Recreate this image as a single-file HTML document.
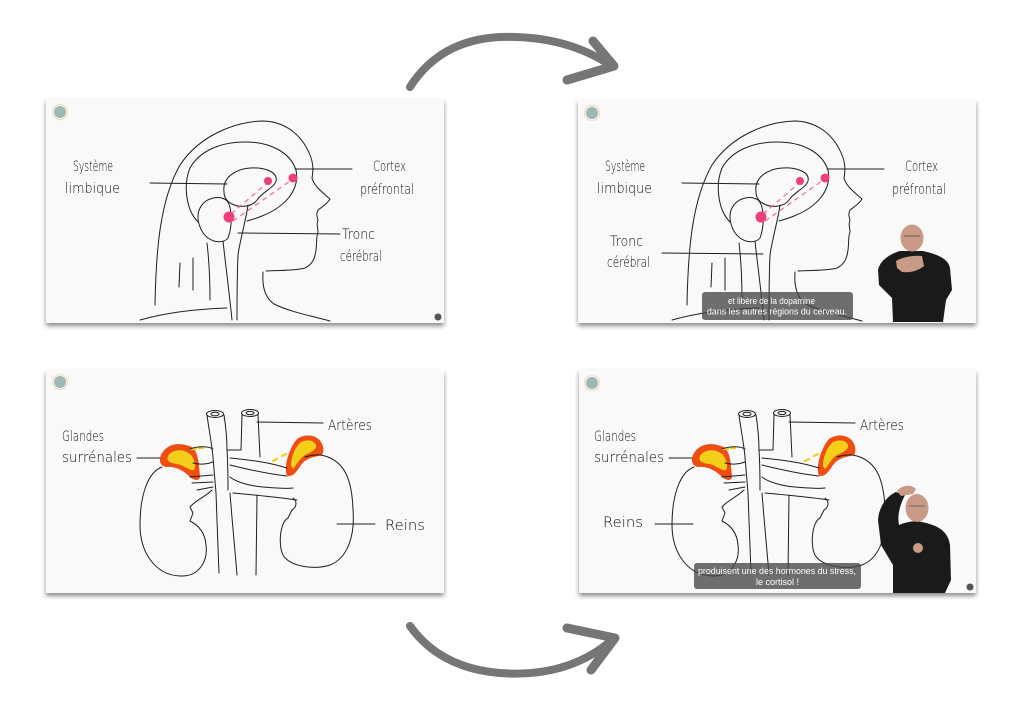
<!DOCTYPE html>
<html><head><meta charset="utf-8"><style>
html,body{margin:0;padding:0;background:#fff;}
svg{display:block;}
.hw{font-family:"DejaVu Sans ExtraLight","DejaVu Sans","Liberation Sans",sans-serif;font-weight:200;fill:#111;font-size:14px;}
.sub{font-family:"Liberation Sans",sans-serif;fill:#fff;font-size:9.2px;}
.ln{fill:none;stroke:#1e1e1e;stroke-width:1;stroke-linecap:round;stroke-linejoin:round;}
</style></head><body>
<svg width="1024" height="724" viewBox="0 0 1024 724" xmlns="http://www.w3.org/2000/svg">
<defs>
<filter id="sh" x="-5%" y="-5%" width="110%" height="115%">
<feDropShadow dx="0" dy="3" stdDeviation="2.5" flood-color="#000" flood-opacity="0.45"/>
</filter>
<g id="head">
<path class="ln" d="M155,305 C156,250 160,200 180,165 C200,135 235,122 262,121 C285,121 302,135 310,155 C314,165 313,172 312,178 C314,186 322,192 330,199 C327,204 322,207 318,210 C316,214 317,217 318,220 C316,224 318,228 318,232 C316,237 317,243 316,250 C315,258 313,264 305,268 C295,271 280,270 266,271"/>
<path class="ln" d="M263,272 C262,285 264,297 274,304 C290,312 312,316 330,321"/>
<path class="ln" d="M140,320 C165,313 195,309 227,308"/>
<path class="ln" d="M198,222 C186,210 183,185 190,168 C200,150 222,142 245,142 C270,142 290,152 296,170 C300,190 285,207 262,216 C255,219 250,220 247,221"/>
<path class="ln" d="M224,192 C222,178 235,169 250,168 C265,167 278,172 276,181 C274,188 262,192 257,200 C252,207 240,208 232,204 C226,201 224,197 224,192 Z"/>
<path class="ln" d="M200,208 C205,198 218,195 226,200 C232,205 233,225 228,238 C224,243 215,243 208,238 C200,232 195,218 200,208 Z"/>
<path class="ln" d="M223,241 C225,260 229,290 232,320"/>
<path class="ln" d="M248,205 C246,220 240,240 238,255 C237,275 237,300 237,320"/>
<path class="ln" d="M207,243 C209,260 210,280 210,300"/>
<path class="ln" d="M180,263 L179,287"/>
<path class="ln" d="M193,258 L193,290"/>
<path class="ln" d="M150,183 L227,184"/>
<path class="ln" d="M295,169 L352,169"/>
<path d="M231,214 L266,184 M233,221 L290,181" stroke="#f06a9a" stroke-width="1.2" stroke-dasharray="5,4" fill="none"/>
<circle cx="268" cy="181" r="4" fill="#ee3f78"/>
<circle cx="293" cy="178" r="4.5" fill="#ee3f78"/>
<circle cx="229" cy="217" r="5.5" fill="#ee3f78"/>
<text class="hw" x="73" y="171" textLength="40" lengthAdjust="spacingAndGlyphs">Système</text>
<text class="hw" x="65" y="193" textLength="55" lengthAdjust="spacingAndGlyphs">limbique</text>
<text class="hw" x="373" y="171" textLength="33" lengthAdjust="spacingAndGlyphs">Cortex</text>
<text class="hw" x="360" y="194" textLength="54" lengthAdjust="spacingAndGlyphs">préfrontal</text>
</g>
<g id="kid">
<path d="M162,453 C167,445 177,441 192,447 C198,452 199,462 200,477 C199,481 195,481 190,477 C183,470 175,466 166,467 C160,466 158,460 162,453 Z" fill="#ee4e14"/>
<path d="M168,456 C172,449 184,448 191,455 C195,460 196,467 194,470 C189,471 184,465 177,464 C170,463 166,461 168,456 Z" fill="#f3cf1a"/>
<path d="M286,472 C285,462 290,447 297,439 C304,434 316,434 321,442 C324,447 324,452 322,455 C316,457 307,457 301,465 C297,471 294,476 289,476 C287,476 286,474 286,472 Z" fill="#ee4e14"/>
<path d="M291,466 C291,457 295,447 301,442 C307,439 314,440 316,445 C317,449 312,452 305,455 C299,459 296,466 293,469 Z" fill="#f3cf1a"/>
<path d="M191,449 L196,449 M199,448 L203,448 M273,461 L277,459 M282,456 L286,454" stroke="#f3cf1a" stroke-width="2.2" stroke-linecap="round"/>
<path class="ln" d="M162,467 C148,472 140,495 140,525 C140,552 155,575 180,576 C200,577 208,560 206,545 C205,532 198,525 190,521 L193,513 L190,507 C196,500 205,497 212,490"/>
<path class="ln" d="M293,498 C298,502 296,508 292,510 L288,518 C280,522 278,545 283,555 C290,567 315,570 330,565 C348,558 355,535 353,510 C352,480 345,462 325,456 C318,454 312,455 305,457"/>
<ellipse class="ln" cx="215" cy="414" rx="8.5" ry="3.5"/>
<ellipse class="ln" cx="250" cy="413" rx="8.5" ry="3.5"/>
<ellipse class="ln" cx="215" cy="414" rx="4" ry="1.8"/>
<ellipse class="ln" cx="250" cy="413" rx="4" ry="1.6"/>
<path class="ln" d="M207,415 C209,430 212,445 213,457 C214,470 215,482 216,493 C217,520 218,550 219,573"/>
<path class="ln" d="M224,415 C226,428 227,440 227,450 C228,465 228,478 228,490"/>
<path class="ln" d="M230,493 C232,520 235,550 237,575"/>
<path class="ln" d="M242,415 L241,450"/>
<path class="ln" d="M258,415 L260,457"/>
<path class="ln" d="M257,495 L256,575"/>
<path class="ln" d="M227,450 L241,450"/>
<path class="ln" d="M230,458 C250,460 268,462 287,468"/>
<path class="ln" d="M230,465 C250,470 268,474 287,476"/>
<path class="ln" d="M230,477 C236,482 250,486 263,487 C275,488 285,489 293,488"/>
<path class="ln" d="M233,493 C255,495 277,497 297,500"/>
<path class="ln" d="M190,449 C198,446 208,446 213,449"/>
<path class="ln" d="M193,463 C200,465 208,464 213,462"/>
<path class="ln" d="M190,477 L213,475"/>
<path class="ln" d="M192,483 L213,482"/>
<path class="ln" d="M197,490 L213,487"/>
<path class="ln" d="M137,458 L160,458"/>
<path class="ln" d="M257,422 L323,423"/>
<text class="hw" x="62" y="441" textLength="42" lengthAdjust="spacingAndGlyphs">Glandes</text>
<text class="hw" x="62" y="462" textLength="70" lengthAdjust="spacingAndGlyphs">surrénales</text>
<text class="hw" x="328" y="430" textLength="44" lengthAdjust="spacingAndGlyphs">Artères</text>
</g>
</defs>

<!-- panels -->
<rect x="46" y="99" width="398" height="224" fill="#f9f9f9" filter="url(#sh)"/>
<rect x="578" y="100" width="398" height="223" fill="#f9f9f9" filter="url(#sh)"/>
<rect x="46" y="370" width="398" height="223" fill="#f9f9f9" filter="url(#sh)"/>
<rect x="579" y="370" width="397" height="223" fill="#f9f9f9" filter="url(#sh)"/>

<!-- top-left -->
<use href="#head"/>
<path class="ln" d="M238,233 L340,234"/>
<text class="hw" x="342" y="239" textLength="33" lengthAdjust="spacingAndGlyphs">Tronc</text>
<text class="hw" x="340" y="261" textLength="42" lengthAdjust="spacingAndGlyphs">cérébral</text>
<circle cx="60" cy="112" r="7.5" fill="none" stroke="#f3dcc4" stroke-width="1.2"/>
<circle cx="60" cy="112" r="6" fill="#9db8b5"/>
<circle cx="438" cy="317" r="3.5" fill="#555"/>

<!-- top-right -->
<g transform="translate(532,0)"><use href="#head"/></g>
<path class="ln" d="M662,253 L763,254"/>
<text class="hw" x="610" y="246" textLength="33" lengthAdjust="spacingAndGlyphs">Tronc</text>
<text class="hw" x="607" y="267" textLength="43" lengthAdjust="spacingAndGlyphs">cérébral</text>
<circle cx="592" cy="113" r="7.5" fill="none" stroke="#f3dcc4" stroke-width="1.2"/>
<circle cx="592" cy="113" r="6" fill="#9db8b5"/>
<!-- person TR -->
<path d="M878,270 C880,260 890,254 900,251 L923,251 C936,254 948,258 950,268 L952,290 L946,300 L943,322 L893,322 L892,298 L879,285 Z" fill="#1a1a1a"/>
<ellipse cx="912" cy="238" rx="11.5" ry="13.5" fill="#c99a86"/>
<path d="M904,236 L920,236" stroke="#555" stroke-width="0.8"/>
<path d="M896,261 C902,257 915,255 922,256 L924,266 C918,271 910,273 902,272 L897,268 Z" fill="#c99a86"/>
<!-- subtitle TR -->
<rect x="702" y="292" width="151" height="28" rx="3" fill="rgba(70,70,70,0.78)"/>
<text class="sub" x="728" y="304" textLength="87" lengthAdjust="spacingAndGlyphs">et libère de la dopamine</text>
<text class="sub" x="707" y="314.5" textLength="140" lengthAdjust="spacingAndGlyphs">dans les autres régions du cerveau.</text>

<!-- bottom-left -->
<use href="#kid"/>
<path class="ln" d="M337,524 L375,524"/>
<text class="hw" x="385" y="530" textLength="40" lengthAdjust="spacingAndGlyphs">Reins</text>
<circle cx="60" cy="382" r="7.5" fill="none" stroke="#f3dcc4" stroke-width="1.2"/>
<circle cx="60" cy="382" r="6" fill="#9db8b5"/>

<!-- bottom-right -->
<g transform="translate(532,0)"><use href="#kid"/></g>
<path class="ln" d="M655,524 L693,524"/>
<text class="hw" x="603" y="527" textLength="40" lengthAdjust="spacingAndGlyphs">Reins</text>
<circle cx="592" cy="383" r="7.5" fill="none" stroke="#f3dcc4" stroke-width="1.2"/>
<circle cx="592" cy="383" r="6" fill="#9db8b5"/>
<!-- person BR -->
<path d="M878,520 C879,506 887,496 896,492 L905,495 C900,505 897,515 899,525 C906,522 915,520 922,522 C936,525 948,530 950,545 L951,580 L945,593 L893,593 L893,565 L881,545 Z" fill="#1a1a1a"/>
<path d="M897,491 C902,485 911,484 916,489 L913,494 L901,496 Z" fill="#c99a86"/>
<ellipse cx="917" cy="508" rx="11.5" ry="14" fill="#c99a86"/>
<path d="M909,506 L925,506" stroke="#555" stroke-width="0.8"/>
<ellipse cx="918" cy="548" rx="5" ry="5" fill="#c99a86"/>
<circle cx="970" cy="587" r="3.5" fill="#555"/>
<!-- subtitle BR -->
<rect x="694" y="563" width="167" height="26" rx="3" fill="rgba(70,70,70,0.78)"/>
<text class="sub" x="698" y="574" textLength="158" lengthAdjust="spacingAndGlyphs">produisent une des hormones du stress,</text>
<text class="sub" x="756" y="585" textLength="43" lengthAdjust="spacingAndGlyphs">le cortisol !</text>

<!-- arrows -->
<g fill="none" stroke="#767676" stroke-linecap="round" stroke-linejoin="round">
<path d="M410,87 Q440,40 500,37 Q565,35 610,65" stroke-width="8"/>
<path d="M593,41 L614,66 L567,80" stroke-width="9"/>
<path d="M410,626 Q440,668 500,673 Q568,678 612,640" stroke-width="8"/>
<path d="M567,628 L615,638 L591,670" stroke-width="9"/>
</g>
</svg>
</body></html>
